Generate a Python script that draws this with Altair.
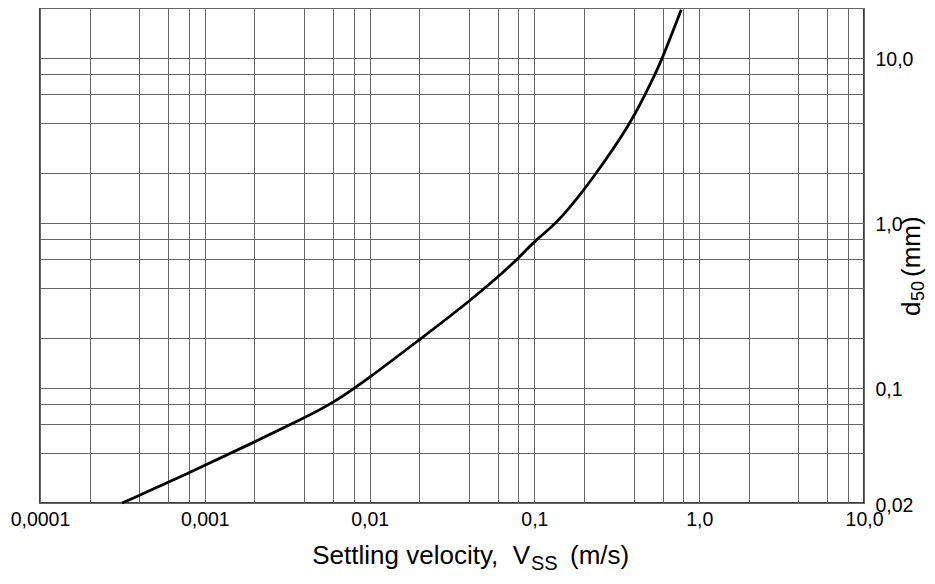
import altair as alt
import pandas as pd

# Curve (settling velocity m/s vs d50 mm)
velocity = [3.15e-4, 7.8e-4, 0.002, 0.004, 0.006, 0.01, 0.02, 0.04, 0.08,
            0.1, 0.14, 0.24, 0.383, 0.471, 0.542, 0.6, 0.778]
d50 = [0.02, 0.03, 0.0468, 0.0655, 0.0805, 0.115, 0.195, 0.33, 0.6,
       0.78, 1.0, 2.0, 4.0, 6.0, 8.0, 10.0, 19.5]

x_grid = [0.0001, 0.0002, 0.0004, 0.0006, 0.0008,
          0.001, 0.002, 0.004, 0.006, 0.008,
          0.01, 0.02, 0.04, 0.06, 0.08,
          0.1, 0.2, 0.4, 0.6, 0.8,
          1, 2, 4, 6, 8, 10]
x_label_values = [0.0001, 0.001, 0.01, 0.1, 1, 10]
x_label_text = ["0,0001", "0,001", "0,01", "0,1", "1,0", "10,0"]

y_grid = [0.02, 0.04, 0.06, 0.08, 0.1, 0.2, 0.4, 0.6, 0.8,
          1, 2, 4, 6, 8, 10, 20]
y_label_values = [0.02, 0.1, 1, 10]
y_label_text = ["0,02", "0,1", "1,0", "10,0"]

FONT = "Liberation Sans"


def label_expr(values, texts):
    expr = "''"
    for v, t in zip(reversed(values), reversed(texts)):
        expr = f"datum.value === {v} ? '{t}' : ({expr})"
    return expr


df = pd.DataFrame({"v": velocity, "d": d50})

curve = alt.Chart(df).mark_line(
    color="black", strokeWidth=2.8, interpolate="basis"
).encode(
    x=alt.X("v:Q",
            scale=alt.Scale(type="log", domain=[0.0001, 10], nice=False),
            axis=alt.Axis(values=x_grid, labelExpr=label_expr(x_label_values, x_label_text),
                          grid=True, gridColor="#666666", gridWidth=1, gridOpacity=1,
                          ticks=False, domain=False, title=None,
                          labelFont=FONT, labelFontSize=19.5, labelColor="black",
                          labelPadding=7, labelFlush=False, labelOverlap=False,
                          labelBaseline="top")),
    y=alt.Y("d:Q",
            scale=alt.Scale(type="log", domain=[0.02, 20], nice=False),
            axis=alt.Axis(orient="right", values=y_grid,
                          labelExpr=label_expr(y_label_values, y_label_text),
                          grid=True, gridColor="#666666", gridWidth=1, gridOpacity=1,
                          ticks=False, domain=False, title=None,
                          labelFont=FONT, labelFontSize=19.5, labelColor="black",
                          labelPadding=11, labelFlush=False, labelOverlap=False,
                          labelAlign="left", labelBaseline="middle", labelOffset=2)),
)


def txt(text, x, y, size, angle=0, align="left"):
    return alt.Chart(alt.Data(values=[{"t": text}])).mark_text(
        text=text, fontSize=size, font=FONT, align=align, baseline="alphabetic",
        angle=angle, color="black"
    ).encode(x=alt.value(x), y=alt.value(y))


x_title = (txt("Settling velocity,\u00a0\u00a0V", 490, 556, 26, align="right")
           + txt("SS", 491, 562, 20)
           + txt("(m/s)", 530, 556, 26))
y_title = (txt("d", 880, 308, 26, angle=270)
           + txt("50", 884, 293, 18, angle=270)
           + txt("(mm)", 880, 269, 26, angle=270))

chart = alt.layer(curve, x_title, y_title).properties(
    width=824, height=495,
    autosize=alt.AutoSizeParams(type="none"),
    padding={"left": 32, "top": 0, "right": 63, "bottom": 73},
).configure_view(stroke="black", strokeWidth=1.5)

chart.save("out.html", embed_options={"renderer": "svg", "actions": False})
